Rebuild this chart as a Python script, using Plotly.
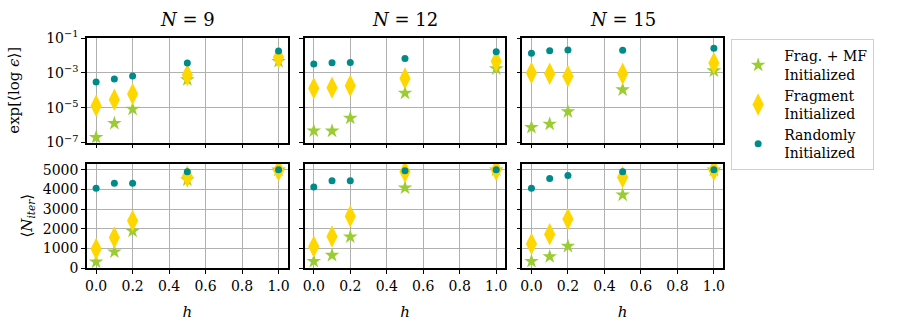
"""Error and iteration count vs h for three initialization strategies, N = 9, 12, 15."""
import plotly.graph_objects as go
from plotly.subplots import make_subplots

H = [0.0, 0.1, 0.2, 0.5, 1.0]
SIZES = [9, 12, 15]

# log10 of exp<log eps>, one list per N
LOG_ERR_MF = [
    [-6.71, -5.90, -5.08, -3.39, -2.34],
    [-6.33, -6.34, -5.60, -4.16, -2.76],
    [-6.13, -5.94, -5.23, -3.97, -2.88],
]
LOG_ERR_FRAG = [
    [-4.89, -4.54, -4.22, -3.13, -2.11],
    [-3.89, -3.85, -3.74, -3.32, -2.34],
    [-3.01, -3.05, -3.20, -3.05, -2.44],
]
LOG_ERR_RAND = [
    [-3.53, -3.36, -3.18, -2.44, -1.75],
    [-2.49, -2.42, -2.40, -2.17, -1.79],
    [-1.88, -1.73, -1.69, -1.71, -1.59],
]

# mean number of iterations
ITER_MF = [
    [310, 820, 1880, 4490, 4990],
    [340, 650, 1590, 4080, 5000],
    [340, 580, 1110, 3720, 4990],
]
ITER_FRAG = [
    [970, 1550, 2400, 4660, 4980],
    [1090, 1600, 2630, 4900, 4990],
    [1230, 1720, 2490, 4620, 4990],
]
ITER_RAND = [
    [4060, 4320, 4320, 4900, 5000],
    [4130, 4440, 4440, 4950, 5000],
    [4060, 4560, 4710, 4900, 5000],
]

SERIES = [
    ("Frag. + MF<br>Initialized", "#9acd32", "star", 11, LOG_ERR_MF, ITER_MF),
    ("Fragment<br>Initialized", "#ffd700", "diamond-tall", 16, LOG_ERR_FRAG, ITER_FRAG),
    ("Randomly<br>Initialized", "#008b8b", "circle", 7, LOG_ERR_RAND, ITER_RAND),
]

FONT = "DejaVu Serif"
BLACK = "black"

fig = make_subplots(
    rows=2, cols=3,
    horizontal_spacing=17 / 636, vertical_spacing=21 / 230,
    subplot_titles=[f"<i>N</i> = {n}" for n in SIZES],
)

for name, color, symbol, size, err, iters in SERIES:
    for c in range(3):
        marker = dict(color=color, symbol=symbol, size=size, line=dict(width=0))
        fig.add_trace(go.Scatter(
            x=H, y=[10 ** v for v in err[c]], mode="markers", marker=marker,
            name=name, legendgroup=name, showlegend=(c == 0),
        ), row=1, col=c + 1)
        fig.add_trace(go.Scatter(
            x=H, y=iters[c], mode="markers", marker=marker,
            name=name, legendgroup=name, showlegend=False,
        ), row=2, col=c + 1)

axis_style = dict(
    showline=True, linecolor=BLACK, linewidth=1.5, mirror=True,
    showgrid=True, gridcolor="#b0b0b0", gridwidth=1.3, zeroline=False,
    ticks="outside", ticklen=4, tickwidth=1.3, tickcolor=BLACK,
    tickfont=dict(family=FONT, size=14, color=BLACK), automargin=False,
)
title_font = dict(family=FONT, size=15, color=BLACK)

for c in range(1, 4):
    fig.update_xaxes(axis_style, range=[-0.05, 1.05], tickvals=[0, 0.2, 0.4, 0.6, 0.8, 1.0],
                     row=1, col=c, showticklabels=False)
    fig.update_xaxes(axis_style, range=[-0.05, 1.05], tickvals=[0, 0.2, 0.4, 0.6, 0.8, 1.0],
                     ticktext=["0.0", "0.2", "0.4", "0.6", "0.8", "1.0"],
                     title=dict(text="<i>h</i>", font=title_font, standoff=14),
                     row=2, col=c)
    fig.update_yaxes(axis_style, type="log", range=[-7, -1], tickvals=[1e-7, 1e-5, 1e-3, 1e-1],
                     ticktext=["10<sup>−7</sup>", "10<sup>−5</sup>", "10<sup>−3</sup>", "10<sup>−1</sup>"],
                     showticklabels=(c == 1), row=1, col=c)
    fig.update_yaxes(axis_style, range=[0, 5320], tickvals=[0, 1000, 2000, 3000, 4000, 5000],
                     showticklabels=(c == 1), row=2, col=c)

fig.update_yaxes(title=dict(text="exp[⟨log <i>ϵ</i>⟩]", font=title_font, standoff=23), row=1, col=1)
fig.update_yaxes(title=dict(text="⟨<i>N<sub>iter</sub></i>⟩", font=title_font, standoff=7), row=2, col=1)

for ann in fig.layout.annotations:
    ann.font = dict(family=FONT, size=18, color=BLACK)
    ann.yshift = 6

fig.update_layout(
    width=900, height=334,
    margin=dict(l=87, r=177, t=38, b=66),
    plot_bgcolor="white", paper_bgcolor="white",
    font=dict(family=FONT, size=14, color=BLACK),
    legend=dict(
        x=1.0125, y=0.995, xanchor="left", yanchor="top",
        bordercolor="#d0d0d0", borderwidth=1.2, bgcolor="white",
        font=dict(family=FONT, size=14, color=BLACK),
        itemsizing="trace", itemwidth=42, tracegroupgap=0,
    ),
)

# drop the browser's default body margin so the figure sits at the page origin
fig.write_html(
    "out.html",
    config={"displayModeBar": False},
    post_script="document.body.style.margin = '0';",
)
